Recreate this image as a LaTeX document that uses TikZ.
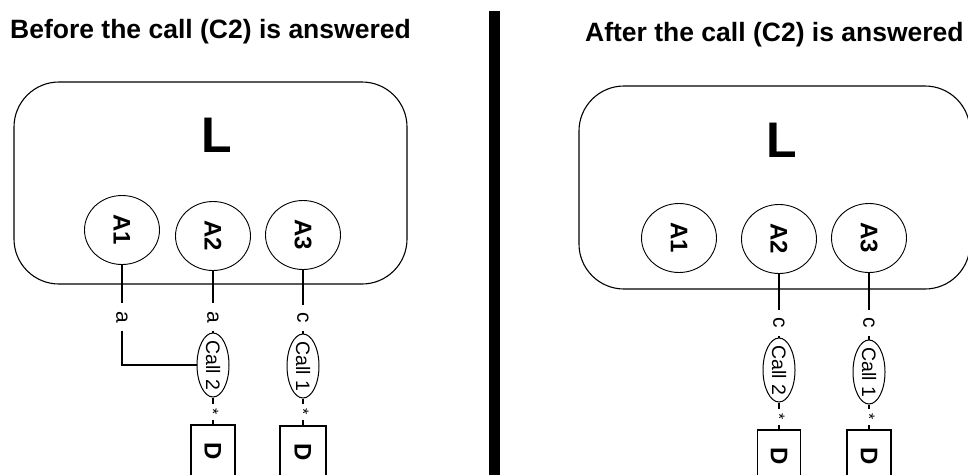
\documentclass[tikz,border=0pt]{standalone}
\usepackage{fontspec}
\setmainfont{Liberation Sans}
\usetikzlibrary{shapes.geometric}

\begin{document}
\begin{tikzpicture}[x=1pt, y=-1pt, world/.style={draw, line width=1.1pt, rounded corners=45pt, minimum height=202pt, inner sep=0pt}, agent/.style={draw, ellipse, line width=0.9pt, rotate=-90, minimum width=69pt, minimum height=75pt, inner sep=0pt, font=\bfseries\fontsize{24}{24}\selectfont}, callnode/.style={draw, ellipse, line width=1pt, rotate=-90, minimum width=64pt, minimum height=32pt, inner xsep=-6pt, inner ysep=0pt, font=\fontsize{19.5}{19.5}\selectfont}, tag/.style={rotate=-90, inner sep=7.5pt, font=\fontsize{21}{21}\selectfont}, mult/.style={rotate=-90, inner sep=5pt, font=\fontsize{16}{16}\selectfont}, dbox/.style={draw, line width=1.6pt, rotate=-90, minimum width=52pt, minimum height=44pt, inner sep=0pt, font=\bfseries\fontsize{24}{24}\selectfont}, link/.style={line width=1.6pt}, heading/.style={anchor=base west, inner sep=0pt, font=\bfseries\fontsize{26.5}{26.5}\selectfont}, bigL/.style={font=\bfseries\fontsize{50}{50}\selectfont}]
\useasboundingbox (0,0) rectangle (968,474);
\clip (0,0) rectangle (968,474);
\fill[white] (0,0) rectangle (968,474);
% before
\node[heading] (tbefore) at (10,38) {Before the call (C2) is answered};
\node[world, minimum width=393pt] (wl) at (210.5,183) {};
\node[bigL] (ll) at (217,135) {L};
\node[agent] (la1) at (122,230) {A1};
\node[agent] (la2) at (213,236) {A2};
\node[agent] (la3) at (303,235) {A3};
\node[tag] (lt1) at (122,317) {a};
\node[tag] (lt2) at (213,317) {a};
\node[tag] (lt3) at (303,318) {c};
\node[callnode] (lcall2) at (213,365) {Call 2};
\node[callnode] (lcall1) at (303,366) {Call 1};
\node[mult] (ls2) at (213,412) {*};
\node[mult] (ls1) at (303,412) {*};
\node[dbox] (ld2) at (213,451) {D};
\node[dbox, minimum height=46pt] (ld1) at (303,452) {D};
\draw[link] (la1) -- (lt1);
\draw[link] (lt1) |- (lcall2);
\draw[link] (la2) -- (lt2);
\draw[link] (lt2) -- (lcall2);
\draw[link] (lcall2) -- (ls2);
\draw[link] (ls2) -- (ld2);
\draw[link] (la3) -- (lt3);
\draw[link] (lt3) -- (lcall1);
\draw[link] (lcall1) -- (ls1);
\draw[link] (ls1) -- (ld1);
% separator
\fill (489,11) rectangle (500,480);
% after
\node[heading] (tafter) at (585,41) {After the call (C2) is answered};
\node[world, minimum width=391pt, minimum height=203pt] (wr) at (774.5,187.5) {};
\node[bigL] (rl) at (782,140) {L};
\node[agent] (ra1) at (679,238) {A1};
\node[agent] (ra2) at (779,239) {A2};
\node[agent] (ra3) at (869,238) {A3};
\node[tag] (rt2) at (779,323) {c};
\node[tag] (rt3) at (869,323) {c};
\node[callnode] (rcall2) at (779,370) {Call 2};
\node[callnode] (rcall1) at (869,372) {Call 1};
\node[mult] (rs2) at (779,417) {*};
\node[mult] (rs1) at (869,417) {*};
\node[dbox, minimum height=43pt] (rd2) at (779,456) {D};
\node[dbox] (rd1) at (869,456) {D};
\draw[link] (ra2) -- (rt2);
\draw[link] (rt2) -- (rcall2);
\draw[link] (rcall2) -- (rs2);
\draw[link] (rs2) -- (rd2);
\draw[link] (ra3) -- (rt3);
\draw[link] (rt3) -- (rcall1);
\draw[link] (rcall1) -- (rs1);
\draw[link] (rs1) -- (rd1);
\end{tikzpicture}
\end{document}
